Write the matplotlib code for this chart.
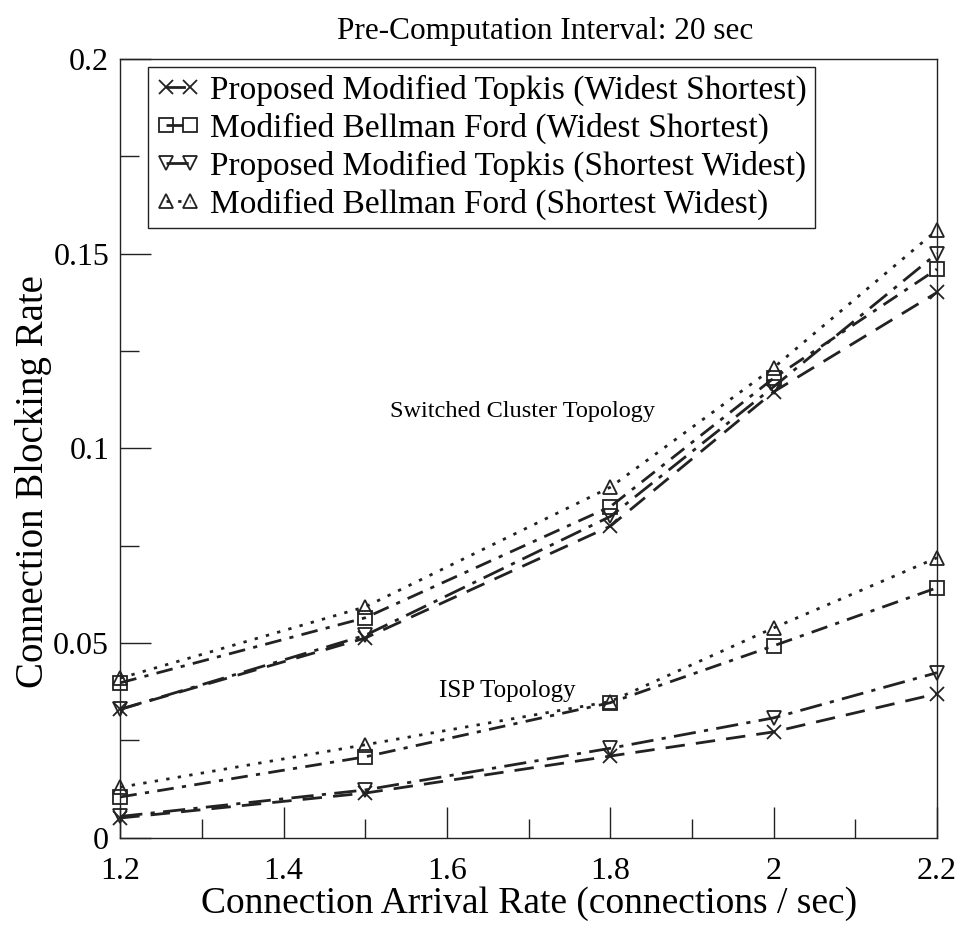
import matplotlib
matplotlib.use("Agg")
import matplotlib.pyplot as plt
from matplotlib.ticker import MultipleLocator, FuncFormatter

plt.rcParams["font.family"] = ["Liberation Serif", "DejaVu Serif"]

# arrival rate (connections / sec)
rates = [1.2, 1.5, 1.8, 2.0, 2.2]

# Switched Cluster Topology
sc_topkis_ws = [0.033, 0.0513, 0.080, 0.1145, 0.140]
sc_bellman_ws = [0.0398, 0.0565, 0.085, 0.118, 0.146]
sc_topkis_sw = [0.033, 0.052, 0.0825, 0.1158, 0.150]
sc_bellman_sw = [0.041, 0.0593, 0.090, 0.1207, 0.156]

# ISP Topology
isp_topkis_ws = [0.0051, 0.0115, 0.021, 0.0272, 0.037]
isp_bellman_ws = [0.0105, 0.0208, 0.0347, 0.0493, 0.0642]
isp_topkis_sw = [0.0055, 0.0123, 0.023, 0.0308, 0.0424]
isp_bellman_sw = [0.013, 0.0239, 0.0350, 0.0539, 0.0719]

labels = ["Proposed Modified Topkis (Widest Shortest)",
          "Modified Bellman Ford (Widest Shortest)",
          "Proposed Modified Topkis (Shortest Widest)",
          "Modified Bellman Ford (Shortest Widest)"]

styles = [
    dict(marker="x", linestyle=(0, (7, 4))),
    dict(marker="s", linestyle=(0, (6, 3, 1.5, 3))),
    dict(marker="v", linestyle=(0, (8, 3, 1.5, 3))),
    dict(marker="^", linestyle=(0, (1.2, 3))),
]

fig = plt.figure(figsize=(9.62, 9.32), dpi=100)
ax = fig.add_axes([0.125, 0.101, 0.849, 0.836])

sc = [sc_topkis_ws, sc_bellman_ws, sc_topkis_sw, sc_bellman_sw]
isp = [isp_topkis_ws, isp_bellman_ws, isp_topkis_sw, isp_bellman_sw]

for i in range(4):
    st = styles[i]
    kw = dict(color="#222222", lw=2.0, markersize=10, markerfacecolor="none",
              markeredgecolor="#222222", markeredgewidth=1.3, clip_on=False,
              marker=st["marker"], linestyle=st["linestyle"])
    ax.plot(rates, sc[i], label=labels[i], **kw)
    ax.plot(rates, isp[i], **kw)

ax.set_xlim(1.2, 2.2)
ax.set_ylim(0, 0.2)
ax.xaxis.set_major_locator(MultipleLocator(0.2))
ax.xaxis.set_minor_locator(MultipleLocator(0.1))
ax.yaxis.set_major_locator(MultipleLocator(0.05))
ax.yaxis.set_minor_locator(MultipleLocator(0.025))
fmt = FuncFormatter(lambda v, p: "%g" % round(v, 3))
ax.xaxis.set_major_formatter(fmt)
ax.yaxis.set_major_formatter(fmt)
ax.tick_params(which="both", direction="in", top=False, right=False,
               labelsize=23, color="#222222", width=1)
ax.tick_params(which="major", length=22)
ax.tick_params(which="minor", length=14)
ax.tick_params(axis="x", pad=14)
ax.tick_params(axis="y", pad=8)
for s in ax.spines.values():
    s.set_linewidth(1.0)
    s.set_color("#222222")

ax.set_xlabel("Connection Arrival Rate (connections / sec)", fontsize=27, labelpad=0)
ax.set_ylabel("Connection Blocking Rate", fontsize=28)
ax.yaxis.set_label_coords(-0.083, 0.457)
fig.text(0.567, 0.966, "Pre-Computation Interval: 20 sec", fontsize=22.5,
         ha="center", va="center")

ax.text(1.53, 0.1095, "Switched Cluster Topology", fontsize=17.5, ha="left", va="center")
ax.text(1.59, 0.0378, "ISP Topology", fontsize=18, ha="left", va="center")

leg = ax.legend(loc="upper left", bbox_to_anchor=(0.034, 0.99), fontsize=24,
                numpoints=2, handlelength=1.3, handletextpad=0.3, borderpad=0.25,
                labelspacing=0.2, fancybox=False, framealpha=1,
                edgecolor="#222222", borderaxespad=0)
leg.get_frame().set_linewidth(1.0)

fig.savefig("out.png", dpi=100)
